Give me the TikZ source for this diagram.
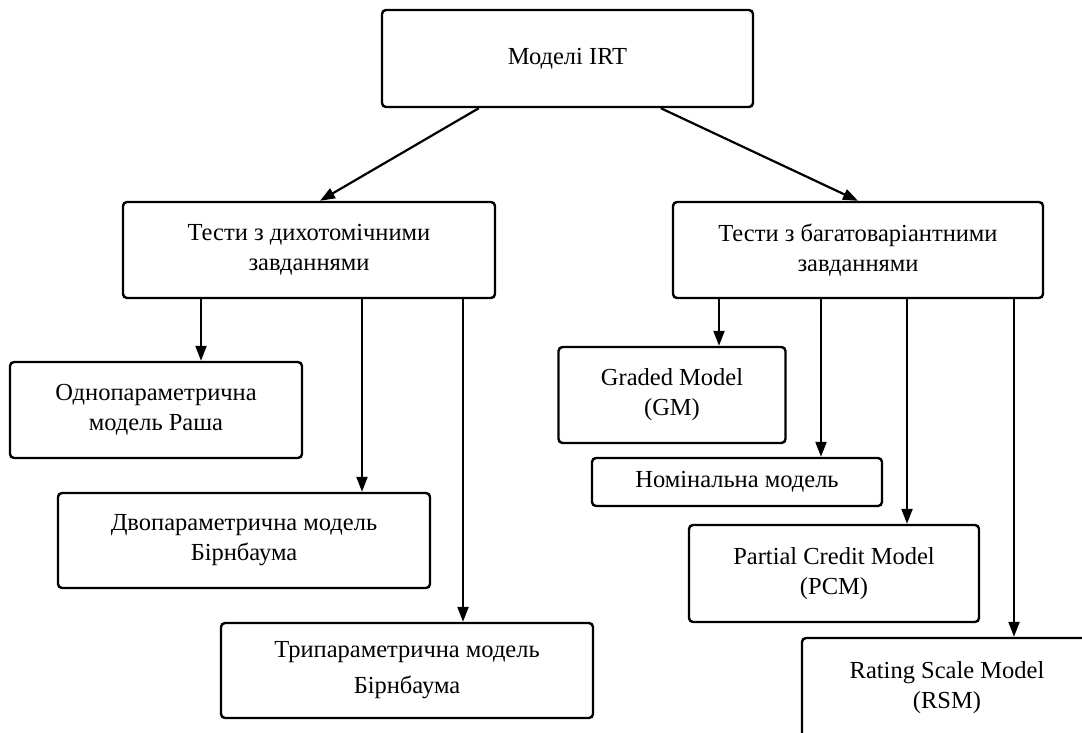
\documentclass[tikz,border=0pt]{standalone}
\usepackage{fontspec}
\setmainfont{Liberation Serif}
\usetikzlibrary{arrows.meta}
\tikzset{
  model/.style={draw=black, line width=2.4pt, rounded corners=4pt, align=center, inner sep=0pt,
    font=\fontsize{24.5}{30}\selectfont},
  arr/.style={-{Triangle[length=15pt,width=11pt]}, line width=2.2pt}
}
\begin{document}
\begin{tikzpicture}[x=1pt, y=-1pt]
    \useasboundingbox (0,0) rectangle (1082,733);
    % root and the two test families
    \node[model, minimum width=371, minimum height=97] (irt) at (567.5,58.5) {Моделі IRT};
    \node[model, minimum width=372, minimum height=96] (dich) at (309,250) {Тести з дихотомічними\\завданнями};
    \node[model, minimum width=370, minimum height=96] (poly) at (858,250) {Тести з багатоваріантними\\завданнями};
    % dichotomous models
    \node[model, minimum width=292, minimum height=96] (rasch) at (156,410) {Однопараметрична\\модель Раша};
    \node[model, minimum width=372, minimum height=95] (birn2) at (244,540.5) {Двопараметрична модель\\Бірнбаума};
    \node[model, minimum width=372, minimum height=95] (birn3) at (407,670.5) {Трипараметрична модель\\[6pt]Бірнбаума};
    % polytomous models
    \node[model, minimum width=227, minimum height=96] (gm) at (672,395) {Graded Model\\(GM)};
    \node[model, minimum width=290, minimum height=48] (nom) at (737,482) {Номінальна модель};
    \node[model, minimum width=290, minimum height=97] (pcm) at (834,573.5) {Partial Credit Model\\(PCM)};
    \node[model, minimum width=290, minimum height=100] (rsm) at (947,688) {Rating Scale Model\\(RSM)};
    % x positions of the down arrows
    \coordinate (l1) at (201,0);
    \coordinate (l2) at (362,0);
    \coordinate (l3) at (463,0);
    \coordinate (r1) at (719,0);
    \coordinate (r2) at (821,0);
    \coordinate (r3) at (907,0);
    \coordinate (r4) at (1014,0);
    \draw[arr] (irt.south west) ++(98,0) -- ([xshift=11pt]dich.north);
    \draw[arr] (irt.south west) ++(280,0) -- (poly.north);
    \draw[arr] (dich.south -| l1) -- (rasch.north -| l1);
    \draw[arr] (dich.south -| l2) -- (birn2.north -| l2);
    \draw[arr] (dich.south -| l3) -- (birn3.north -| l3);
    \draw[arr] (poly.south -| r1) -- (gm.north -| r1);
    \draw[arr] (poly.south -| r2) -- (nom.north -| r2);
    \draw[arr] (poly.south -| r3) -- (pcm.north -| r3);
    \draw[arr] (poly.south -| r4) -- (rsm.north -| r4);
\end{tikzpicture}
\end{document}
